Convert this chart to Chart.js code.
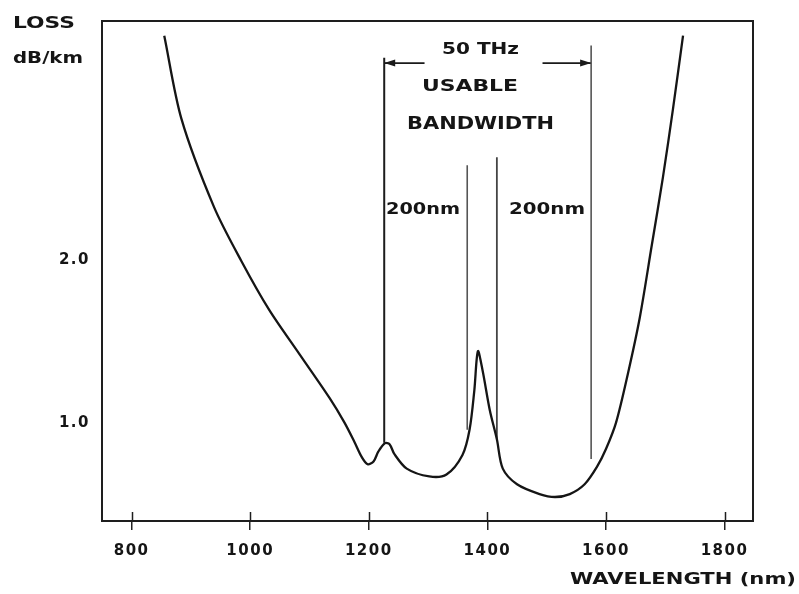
<!DOCTYPE html>
<html><head><meta charset="utf-8">
<script src="https://cdn.jsdelivr.net/npm/chart.js@4.4.1/dist/chart.umd.min.js"></script>
<style>html,body{margin:0;padding:0;background:#fff;}canvas{display:block;}</style>
</head><body>
<canvas id="c" width="799" height="594"></canvas>
<script>
// ---- data ----
const wavelength = [855, 884, 939, 985, 1032, 1083, 1134, 1159, 1176, 1188, 1198, 1208, 1216, 1227, 1235, 1243, 1264, 1302, 1331, 1358, 1370, 1378, 1384, 1392, 1404, 1416, 1426, 1450, 1488, 1514, 1539, 1564, 1585, 1600, 1617, 1637, 1657, 1677, 1696, 1713, 1730];
const loss = [3.375, 2.865, 2.324, 1.994, 1.694, 1.423, 1.153, 1.003, 0.883, 0.793, 0.748, 0.765, 0.825, 0.877, 0.871, 0.811, 0.721, 0.673, 0.685, 0.805, 0.961, 1.201, 1.441, 1.321, 1.081, 0.901, 0.721, 0.625, 0.565, 0.547, 0.565, 0.625, 0.733, 0.841, 1.003, 1.303, 1.646, 2.084, 2.505, 2.925, 3.375];
const xTicks = [800, 1000, 1200, 1400, 1600, 1800];
const yTicks = [1.0, 2.0];
const markerX = [1226, 1366, 1416, 1575];
const markerTop = [3.24, 2.58, 2.63, 3.315];
const markerBottom = [0.88, 0.96, 0.90, 0.78];
const arrowY = 3.207;
const arrowLeft = [1226, 1294];
const arrowRight = [1493, 1575];
const annotationText = ['50 THz', 'USABLE', 'BANDWIDTH', '200nm', '200nm'];
const yTitle = ['LOSS', 'dB/km'];
const xTitle = 'WAVELENGTH (nm)';

// ---- styling / layout ----
const INK = '#151515';
const markerStyle = [
  {c: '#1c1c1c', w: 2},
  {c: '#555', w: 1.6},
  {c: '#444', w: 1.8},
  {c: '#555', w: 1.6}
];

function stretchText(ctx, text, cx, cy, targetW, size) {
  ctx.save();
  ctx.letterSpacing = '0px';
  ctx.font = 'bold ' + size + 'px "DejaVu Sans"';
  const w = ctx.measureText(text).width;
  ctx.translate(cx, cy);
  ctx.scale(targetW / w, 1);
  ctx.fillStyle = INK;
  ctx.textAlign = 'center';
  ctx.textBaseline = 'middle';
  ctx.fillText(text, 0, 0);
  ctx.restore();
}

const decor = {
  id: 'decor',
  beforeDraw(chart) { chart.ctx.letterSpacing = '1.5px'; },
  afterDraw(chart) {
    const ctx = chart.ctx, a = chart.chartArea, xs = chart.scales.x, ys = chart.scales.y;
    ctx.save();
    // frame
    ctx.strokeStyle = '#1e1e1e';
    ctx.lineWidth = 2;
    ctx.strokeRect(a.left, a.top, a.right - a.left, a.bottom - a.top);
    // inner part of x ticks
    ctx.lineWidth = 1.5;
    xTicks.forEach(v => {
      const px = Math.round(xs.getPixelForValue(v)) + 0.5;
      ctx.beginPath(); ctx.moveTo(px, a.bottom); ctx.lineTo(px, a.bottom - 9); ctx.stroke();
    });
    // arrowheads
    ctx.fillStyle = '#1a1a1a';
    const ay = ys.getPixelForValue(arrowY);
    const lx = xs.getPixelForValue(arrowLeft[0]);
    const rx = xs.getPixelForValue(arrowRight[1]);
    ctx.beginPath(); ctx.moveTo(lx, ay); ctx.lineTo(lx + 11, ay - 3.5); ctx.lineTo(lx + 11, ay + 3.5); ctx.closePath(); ctx.fill();
    ctx.beginPath(); ctx.moveTo(rx, ay); ctx.lineTo(rx - 11, ay - 3.5); ctx.lineTo(rx - 11, ay + 3.5); ctx.closePath(); ctx.fill();
    ctx.restore();
    // texts
    stretchText(ctx, yTitle[0], 44, 24, 62, 15);
    stretchText(ctx, yTitle[1], 48, 59.5, 70, 15);
    stretchText(ctx, annotationText[0], 480.5, 50, 77, 16);
    stretchText(ctx, annotationText[1], 470, 87, 96, 16);
    stretchText(ctx, annotationText[2], 480.5, 125, 147, 17);
    stretchText(ctx, annotationText[3], 423, 210, 74, 16);
    stretchText(ctx, annotationText[4], 547, 210, 76, 16);
    stretchText(ctx, xTitle, 683, 580, 226, 15);
  }
};

const datasets = [{
  data: wavelength.map((x, i) => ({x: x, y: loss[i]})),
  borderColor: INK, borderWidth: 2.3, pointRadius: 0,
  tension: 0.3, fill: false
}];
markerX.forEach((x, i) => datasets.push({
  data: [{x: x, y: markerBottom[i]}, {x: x, y: markerTop[i]}],
  borderColor: markerStyle[i].c, borderWidth: markerStyle[i].w, pointRadius: 0, fill: false
}));
[arrowLeft, arrowRight].forEach(seg => datasets.push({
  data: [{x: seg[0], y: arrowY}, {x: seg[1], y: arrowY}],
  borderColor: '#1a1a1a', borderWidth: 1.8, pointRadius: 0, fill: false
}));

const tickFont = {family: 'DejaVu Sans', weight: 'bold', size: 15};
new Chart(document.getElementById('c').getContext('2d'), {
  type: 'line',
  data: {datasets: datasets},
  options: {
    responsive: false, animation: false,
    layout: {padding: {top: 10, right: 46, left: 0, bottom: 0}},
    plugins: {legend: {display: false}, tooltip: {enabled: false}},
    elements: {line: {borderCapStyle: 'butt'}},
    scales: {
      x: {
        type: 'linear', min: 750, max: 1848,
        afterBuildTicks: s => { s.ticks = xTicks.map(v => ({value: v})); },
        afterFit: s => { s.height = 73; },
        ticks: {font: tickFont, color: INK, padding: 12, maxRotation: 0, autoSkip: false, callback: v => String(v)},
        grid: {drawOnChartArea: false, drawTicks: true, tickLength: 9, color: '#222', lineWidth: 1.5},
        border: {display: false}
      },
      y: {
        type: 'linear', min: 0.4, max: 3.465,
        afterBuildTicks: s => { s.ticks = yTicks.map(v => ({value: v})); },
        afterFit: s => { s.width = 102; },
        ticks: {font: tickFont, color: INK, padding: 12, callback: v => Number(v).toFixed(1)},
        grid: {display: false, drawTicks: false},
        border: {display: false}
      }
    }
  },
  plugins: [decor]
});
</script>
</body></html>
